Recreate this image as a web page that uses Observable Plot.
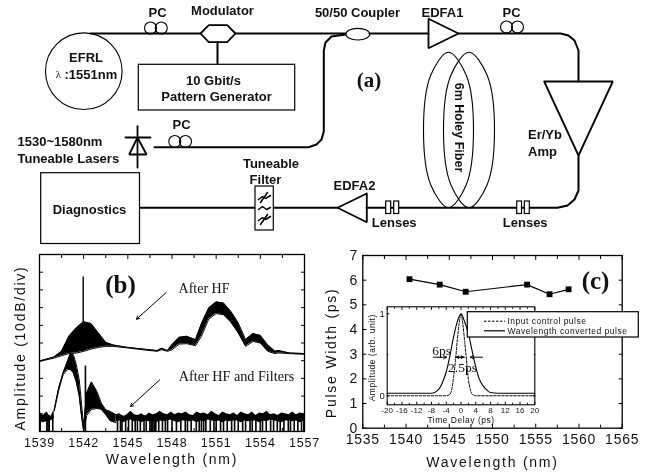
<!DOCTYPE html>
<html><head><meta charset="utf-8">
<script src="https://cdn.jsdelivr.net/npm/d3@7"></script>
<script src="https://cdn.jsdelivr.net/npm/@observablehq/plot@0.6"></script>
<style>
html,body{margin:0;padding:0;background:#fff}
#stage{position:relative;width:646px;height:472px;overflow:hidden;filter:blur(.3px)}
#stage svg{position:absolute;left:0;top:0;background:transparent}
g[aria-label="x-axis tick label"]{letter-spacing:.75px}
g[aria-label="y-axis tick label"]{letter-spacing:.5px}
#stage svg:nth-of-type(3) g[aria-label="x-axis tick label"]{letter-spacing:.1px}
[aria-label="spaced"]{letter-spacing:1.75px}
[aria-label="spaced-small"]{letter-spacing:.5px}
</style></head><body><div id="stage"></div>
<script>
// ---------- panel (b) data: wavelength (nm), amplitude (div) ----------
const upperW  =[1539,1540,1540.5,1541,1541.5,1542,1542.5,1543,1543.5,1544,1545,1546,1547,1547.3,1547.7,1548,1548.5,1549,1549.6,1550,1550.5,1551,1551.5,1552,1552.5,1553,1553.5,1554,1554.5,1555,1555.2,1556,1557];
const upperLo =[3.96,4.15,4.28,4.40,4.43,4.53,4.66,4.75,4.81,4.81,4.72,4.62,4.53,4.62,4.53,4.62,4.94,4.96,4.85,5.38,6.36,6.66,6.60,6.17,5.57,4.81,5.09,5.00,4.53,4.40,4.44,4.40,4.36];
const upperHi =[3.98,4.21,4.53,5.38,5.85,6.20,6.10,5.57,5.04,4.89,4.75,4.66,4.57,4.70,4.57,4.90,5.32,5.38,5.19,6.09,6.98,7.32,7.26,6.79,6.13,5.19,5.53,5.43,4.90,4.53,4.58,4.43,4.40];
const upperSpike={w:1541.97,lo:4.5,hi:8.73};
const lowerW  =[1540,1540.3,1540.6,1540.9,1541.1,1541.3,1541.5,1541.7,1541.85,1542,1542.2,1542.53,1542.9,1543.2,1543.5,1543.8,1544.2];
const lowerLo =[1.15,2.3,3.2,3.5,3.5,3.3,2.8,2.0,0.9,0,0.9,1.25,1.3,1.25,0.95,0.6,0.5];
const lowerHi =[1.23,2.45,3.3,3.96,4.4,4.34,3.77,2.92,1.6,0.28,2.17,2.8,2.26,1.6,1.23,1.13,0.94];
const lowerSpike={w:1542.12,lo:0,hi:3.7};
const noiseW  =[1539,1539.25,1539.5,1539.75,1540,1544.2,1544.45,1544.7,1544.95,1545.2,1545.45,1545.7,1545.95,1546.2,1546.45,1546.7,1546.95,1547.2,1547.45,1547.7,1547.95,1548.2,1548.45,1548.7,1548.95,1549.2,1549.45,1549.7,1549.95,1550.2,1550.45,1550.7,1550.95,1551.2,1551.45,1551.7,1551.95,1552.2,1552.45,1552.7,1552.95,1553.2,1553.45,1553.7,1553.95,1554.2,1554.45,1554.7,1554.95,1555.2,1555.45,1555.7,1555.95,1556.2,1556.45,1556.7,1557];
const noiseTop=[1.1,0.9,1.1,0.8,1.2,0.95,1.0,0.85,0.95,1.15,0.95,0.9,1.0,0.85,1.05,0.95,1.0,1.15,1.0,0.95,1.1,0.95,1.05,1.0,1.1,0.95,0.9,1.1,1.0,1.05,0.95,1.15,1.0,0.9,1.1,1.0,0.95,1.05,0.9,1.1,1.0,0.95,1.1,0.9,1.05,1.0,1.15,0.95,1.0,0.9,1.05,1.0,0.95,1.1,0.95,1.05,1.0];
const noiseBot=[0.6,0.5,0.55,0.6,0.7,0.55,0.6,0.5,0.6,0.65,0.55,0.6,0.5,0.6,0.55,0.6,0.5,0.6,0.55,0.6,0.65,0.55,0.5,0.6,0.6,0.55,0.6,0.5,0.6,0.55,0.65,0.6,0.55,0.6,0.5,0.6,0.55,0.6,0.6,0.5,0.6,0.55,0.6,0.6,0.5,0.6,0.55,0.65,0.6,0.55,0.5,0.6,0.6,0.55,0.6,0.5,0.6];
const noiseBars=[1539.05,1539.5,1539.58,1539.66,1539.9,1544.3,1544.5,1544.6,1544.85,1545.05,1545.3,1545.5,1545.65,1545.85,1546.1,1546.25,1546.5,1546.6,1546.7,1546.8,1546.9,1547.1,1547.35,1547.55,1547.7,1548.0,1548.3,1548.6,1548.9,1549.05,1549.3,1549.65,1549.85,1550.0,1550.15,1550.3,1550.6,1550.85,1551.0,1551.3,1551.5,1551.75,1552.05,1552.25,1552.5,1552.8,1553.0,1553.3,1553.45,1553.7,1554,1554.15,1554.4,1554.7,1554.9,1555.15,1555.35,1555.6,1555.9,1556.05,1556.3,1556.55,1556.8,1556.95];
// ---------- panel (c) data ----------
const pulseW=[1540.4,1543.9,1546.9,1554,1556.6,1558.8];
const pulsePs=[6.04,5.82,5.53,5.82,5.43,5.63];
const solidT=[-20,-12,-8,-6,-5,-4,-3,-2,-1,0,1,2,3,4,5,6,7,8,10,20];
const solidA=[0.03,0.03,0.03,0.08,0.165,0.29,0.49,0.72,0.905,1,0.9,0.76,0.55,0.35,0.2,0.12,0.07,0.04,0.03,0.03];
const dashT=[-20,-4,-3,-2.5,-2,-1.5,-1,-0.5,0,0.5,1,1.5,2,2.5,3,4,20];
const dashA=[0,0,0.02,0.08,0.23,0.43,0.68,0.885,1,0.875,0.66,0.43,0.2,0.08,0.02,0,0];
// ---------- schematic (a): page-unit outlines ----------
const fibreTop=[[90,33],[200,33]];
const fibreMod=[[235,33],[345,33]];
const fibreModDrive=[[217,41.7],[217,64.3]];
const fibreCoupOut=[[369,33],[428,33]];
const fibreAmpOut=[[458,33],[560,33],[568,35],[574,40],[578,50],[578,81]];
const fibreErOut=[[578,155],[578,190],[574,199],[567,205],[557,207.3],[366,207.3]];
const fibreEd2Out=[[337,207.3],[138.5,207.3]];
const fibreLaser=[[154,146.7],[308,146.7],[316,144],[321,139],[323.3,131],[323.3,50],[325,42],[331,36],[345,34]];
const hexagon=[[200,33],[208.3,24.7],[226.7,24.7],[235,33],[226.7,41.7],[208.3,41.7],[200,33]];
const edfa1=[[428,18.3],[428,47.7],[458,33],[428,18.3]];
const edfa2=[[366.3,193],[366.3,221.7],[337,207.3],[366.3,193]];
const erYb=[[543.7,81],[612.3,81],[578,155],[543.7,81]];
const diodeTri=[[137,137],[128.7,154],[146,154],[137,137]];
const diodeStem=[[137,125.7],[137,167]];
const diodeBar=[[125,137],[150,137]];
const pcCircles=[[150,27.5],[160.8,27.5],[174.3,141],[185,141],[506,26.5],[517,26.5]];
const boxes=[[138.3,64.3,294.7,110],[40.7,172.7,139.5,243.5],[255,186,273.3,230],[385.7,201,390.7,213.5],[393.7,201,398.7,213.5],[516.7,201,521.5,213.5],[524.3,201,529.3,213.5]];
const filterMarks=[
 [[258,199],[262,196],[265,198],[270,195]],[[260,202],[267,192]],
 [[258,209],[262,206],[266,209],[270,207]],
 [[258,220],[262,217],[265,219],[270,216]],[[260,224],[267,214]]];
const ellipses=[[448,129.5,25,77.7],[468.5,129.5,25.5,77.7],[357.3,33.7,12,5.8]];
const labelsCentered=[
 ["PC",157,12],["Modulator",222,10],["50/50 Coupler",357,12.5],["EDFA1",442,12.5],["PC",511,12.5],
 ["EFRL",85.5,57],["10 Gbit/s",213,80],["Pattern Generator",216,96],
 ["PC",181,124.5],["Diagnostics",89,209.5],
 ["Tuneable",270.5,163],["Filter",265,179],["EDFA2",354,185.5],["Lenses",393.7,222],["Lenses",524.7,222]];
const labelsLeft=[[":1551nm",64,74],["1530~1580nm",17,141],["Tuneable Lasers",17,158],["Er/Yb",527.5,134],["Amp",527.5,151]];
const labelLambda=["λ",58,74];
const labelFibre=["6m Holey Fiber",458.5,127];
const labelsSerifBold=[["(a)",368.5,80,21],["(b)",120,284,25],["(c)",595,280,25]];
const labelsSerif=[["After HF",203.5,288,14],["After HF and Filters",236,376,14.2],["6ps",441,350,13.5],["2.5ps",462,367,13.5]];
const arrows=[[165.7,292,136,318.7],[159.3,379.3,130,406],[433,356.7,446,356.7],[455,356.7,463,356.7],[482,356.7,470,356.7],[464,356.7,456,356.7]];
const legendBox=[467.3,311.7,638.3,337];
const legendItems=[["Input control pulse",484,505,320.7,"3,1.5"],["Wavelength converted pulse",484,505,330.3,null]];

const SANS="'Liberation Sans',Arial,sans-serif", SERIF="'Liberation Serif','Times New Roman',serif";
const W=646,H=472,stage=document.getElementById("stage");
const add=p=>stage.appendChild(p);
const tbl=(x,lo,hi)=>x.map((w,i)=>({w,lo:lo[i],hi:hi[i]}));
const X=d=>d[0],Y=d=>d[1];
const SP=()=>"spaced", SPS=()=>"spaced-small";

function axes(xMajor,xMinor,yMajor,yMinor,o){
  const m=[];
  const L=o.major, S=o.minor;
  for(const [anchor,ticks,size] of [["bottom",xMinor,S],["top",xMinor,S]]) m.push(Plot.axisX(ticks,{anchor,tickSize:-size,tickFormat:()=>"",label:null,stroke:"#000",strokeWidth:1}));
  for(const [anchor,ticks,size] of [["bottom",xMajor,L],["top",xMajor,L]]) m.push(Plot.axisX(ticks,{anchor,tickSize:-size,tickPadding:o.xPad+size,tickFormat:anchor==="bottom"?(d=>String(d)):()=>"",label:null,fontSize:o.xFont,stroke:"#000",strokeWidth:1,fill:"#111"}));
  for(const [anchor,ticks,size] of [["left",yMinor,S],["right",yMinor,S]]) m.push(Plot.axisY(ticks,{anchor,tickSize:-size,tickFormat:()=>"",label:null,stroke:"#000",strokeWidth:1}));
  for(const [anchor,ticks,size] of [["left",yMajor,L],["right",yMajor,L]]) m.push(Plot.axisY(ticks,{anchor,tickSize:-size,tickPadding:o.yPad+size,tickFormat:(anchor==="left"&&o.yLabels)?(d=>String(d)):()=>"",label:null,fontSize:o.yFont,stroke:"#000",strokeWidth:1,fill:"#111"}));
  return m;
}

// ---------- panel (b) ----------
const upper=tbl(upperW,upperLo,upperHi), lower=tbl(lowerW,lowerLo,lowerHi), noise=tbl(noiseW,noiseBot,noiseTop);
const noiseL=noise.filter(d=>d.w<=1540), noiseR=noise.filter(d=>d.w>1541);
add(Plot.plot({width:W,height:H,marginLeft:39,marginRight:W-304,marginTop:254,marginBottom:H-431,
  style:{fontFamily:SANS,background:"transparent",color:"#111"},
  x:{domain:[1539,1557]},y:{domain:[0,10]},
  marks:[
    ...axes(d3.range(1539,1558,3),d3.range(1540.5,1557,3),d3.range(0,11),[],{major:4,minor:3,xPad:7,yPad:4,xFont:12.5,yFont:12,yLabels:false}),
    Plot.areaY(upper,{x:"w",y1:"lo",y2:"hi",fill:"#000"}),
    Plot.lineY(upper,{x:"w",y:"hi",stroke:"#000",strokeWidth:1}),
    Plot.lineY(upper,{x:"w",y:"lo",stroke:"#000",strokeWidth:1}),
    Plot.ruleX([upperSpike],{x:"w",y1:"lo",y2:"hi",stroke:"#000",strokeWidth:1.4}),
    Plot.areaY(lower,{x:"w",y1:"lo",y2:"hi",fill:"#000"}),
    Plot.lineY(lower,{x:"w",y:"lo",stroke:"#000",strokeWidth:1}),
    Plot.lineY(lower,{x:"w",y:"hi",stroke:"#000",strokeWidth:1}),
    Plot.ruleX([lowerSpike],{x:"w",y1:"lo",y2:"hi",stroke:"#000",strokeWidth:1.6}),
    Plot.areaY(noiseL,{x:"w",y1:"lo",y2:"hi",fill:"#000"}),
    Plot.areaY(noiseR,{x:"w",y1:"lo",y2:"hi",fill:"#000"}),
    Plot.ruleX(noiseBars,{x:d=>d,y1:0,y2:0.9,stroke:"#000",strokeWidth:1.6}),
    Plot.frame({stroke:"#000",strokeWidth:1.3}),
    Plot.text(["Wavelength (nm)"],{frameAnchor:"bottom",dy:32,fontSize:14,ariaLabel:SP,fill:"#111"}),
    Plot.text(["Amplitude (10dB/div)"],{frameAnchor:"left",textAnchor:"middle",dx:-19,dy:5,rotate:-90,fontSize:14,ariaLabel:SP,fill:"#111"})
  ]}));

// ---------- panel (c) ----------
const pulse=pulseW.map((w,i)=>({w,p:pulsePs[i]}));
add(Plot.plot({width:W,height:H,marginLeft:362.3,marginRight:W-621.7,marginTop:255,marginBottom:H-427.7,
  style:{fontFamily:SANS,background:"transparent",color:"#111"},
  x:{domain:[1535,1565]},y:{domain:[0,7]},
  marks:[
    ...axes(d3.range(1535,1566,5),d3.range(1537.5,1565,5),d3.range(0,8),[],{major:4,minor:3,xPad:6,yPad:5,xFont:14,yFont:14,yLabels:true}),
    Plot.line(pulse,{x:"w",y:"p",stroke:"#000",strokeWidth:1.2}),
    Plot.dot(pulse,{x:"w",y:"p",symbol:"square",r:3.3,fill:"#000"}),
    Plot.frame({stroke:"#000",strokeWidth:1.3}),
    Plot.text(["Wavelength (nm)"],{frameAnchor:"bottom",dy:39,fontSize:14,ariaLabel:SP,fill:"#111"}),
    Plot.text(["Pulse Width (ps)"],{frameAnchor:"left",textAnchor:"middle",dx:-31,dy:11,rotate:-90,fontSize:14,ariaLabel:SP,fill:"#111"})
  ]}));

// ---------- inset ----------
const solid=solidT.map((t,i)=>({t,a:solidA[i]})), dash=dashT.map((t,i)=>({t,a:dashA[i]}));
add(Plot.plot({width:W,height:H,marginLeft:386.7,marginRight:W-534.3,marginTop:306.3,marginBottom:H-404.3,
  style:{fontFamily:SANS,background:"transparent",color:"#111"},
  x:{domain:[-20,20]},y:{domain:[-0.11,1.085]},
  marks:[
    Plot.rect([0],{x1:-20,x2:20,y1:-0.11,y2:1.085,fill:"#fff"}),
    ...axes(d3.range(-20,21,4),d3.range(-18,20,4),[0,1],[0.5],{major:2.5,minor:1.5,xPad:3,yPad:2,xFont:8,yFont:9.5,yLabels:true}),
    Plot.line(solid,{x:"t",y:"a",stroke:"#000",strokeWidth:1.1,curve:"monotone-x"}),
    Plot.line(dash,{x:"t",y:"a",stroke:"#000",strokeWidth:1,strokeDasharray:"2.5,1.5",curve:"monotone-x"}),
    Plot.frame({stroke:"#000",strokeWidth:1.1}),
    Plot.text(["Time Delay (ps)"],{frameAnchor:"bottom",dy:18,fontSize:8.5,ariaLabel:SPS,fill:"#111"}),
    Plot.text(["Amplitude (arb. unit)"],{frameAnchor:"left",textAnchor:"middle",dx:-15,dy:2,rotate:-90,fontSize:8.5,ariaLabel:SPS,fill:"#111"})
  ]}));

// ---------- overlay: schematic (a), annotations, legend ----------
const ln=(pts,sw=2)=>Plot.line(pts,{x:X,y:Y,stroke:"#000",strokeWidth:sw,strokeLinejoin:"miter"});
const ell=([cx,cy,rx,ry])=>{const k=Math.SQRT1_2;return Plot.line(
  [[1,0],[k,k],[0,1],[-k,k],[-1,0],[-k,-k],[0,-1],[k,-k]].map(([a,b])=>[cx+rx*a,cy+ry*b]),
  {x:X,y:Y,stroke:"#000",strokeWidth:1.1,curve:"catmull-rom-closed"});};
add(Plot.plot({width:W,height:H,margin:0,
  style:{fontFamily:SANS,background:"transparent",color:"#000"},
  x:{domain:[0,W],axis:null},y:{domain:[H,0],axis:null},
  marks:[
    ...[fibreTop,fibreMod,fibreModDrive,fibreCoupOut,fibreAmpOut,fibreErOut,fibreEd2Out,fibreLaser].map(p=>ln(p,2)),
    ...[hexagon,edfa1,edfa2,erYb,diodeTri,diodeStem,diodeBar].map(p=>ln(p,1.8)),
    Plot.rect(boxes,{x1:d=>d[0],y1:d=>d[1],x2:d=>d[2],y2:d=>d[3],fill:"#fff",stroke:"#000",strokeWidth:1.2}),
    ...filterMarks.map(p=>ln(p,1.5)),
    Plot.dot(pcCircles,{x:X,y:Y,r:6,stroke:"#000",strokeWidth:1.1,fill:"none"}),
    Plot.dot([[83.3,70.7]],{x:X,y:Y,r:38.3,stroke:"#000",strokeWidth:1.1,fill:"none"}),
    ...ellipses.map(ell),
    Plot.text(labelsCentered,{x:d=>d[1],y:d=>d[2],text:d=>d[0],textAnchor:"middle",fontSize:13,fontWeight:"bold",fill:"#111"}),
    Plot.text(labelsLeft,{x:d=>d[1],y:d=>d[2],text:d=>d[0],textAnchor:"start",fontSize:13,fontWeight:"bold",fill:"#111"}),
    Plot.text([labelLambda],{x:d=>d[1],y:d=>d[2],text:d=>d[0],fontSize:11,fontFamily:SERIF,fill:"#111",textAnchor:"middle"}),
    Plot.text([labelFibre],{x:d=>d[1],y:d=>d[2],text:d=>d[0],rotate:90,fontSize:12.5,fontWeight:"bold",fill:"#111"}),
    Plot.text(labelsSerifBold,{x:d=>d[1],y:d=>d[2],text:d=>d[0],fontSize:d=>d[3],fontWeight:"bold",fontFamily:SERIF,fill:"#111"}),
    Plot.text(labelsSerif,{x:d=>d[1],y:d=>d[2],text:d=>d[0],fontSize:d=>d[3],fontFamily:SERIF,fill:"#111"}),
    Plot.arrow(arrows,{x1:d=>d[0],y1:d=>d[1],x2:d=>d[2],y2:d=>d[3],stroke:"#000",strokeWidth:1,headLength:5,bend:0}),
    Plot.rect([legendBox],{x1:d=>d[0],y1:d=>d[1],x2:d=>d[2],y2:d=>d[3],fill:"#fff",stroke:"#000",strokeWidth:1.2}),
    Plot.ruleY(legendItems.filter(d=>d[4]),{y:d=>d[3],x1:d=>d[1],x2:d=>d[2],stroke:"#000",strokeWidth:1,strokeDasharray:"2.5,1.5"}),
    Plot.ruleY(legendItems.filter(d=>!d[4]),{y:d=>d[3],x1:d=>d[1],x2:d=>d[2],stroke:"#000",strokeWidth:1.2}),
    Plot.text(legendItems,{x:d=>d[2]+2,y:d=>d[3],text:d=>d[0],textAnchor:"start",fontSize:8.5,ariaLabel:SPS,fill:"#111"})
  ]}));
</script></body></html>
